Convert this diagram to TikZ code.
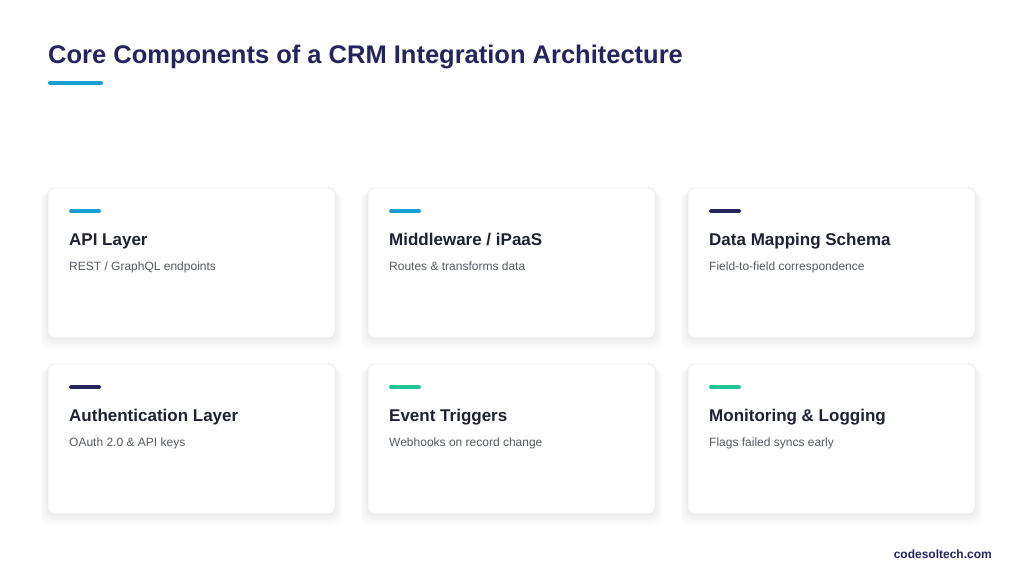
\documentclass[tikz,border=0pt]{standalone}
\usepackage{fontspec}
\setmainfont{Liberation Sans}
\usetikzlibrary{calc}
\definecolor{navy}{HTML}{25255E}
\definecolor{cyanacc}{HTML}{1A9FD4}
\definecolor{greenacc}{HTML}{1FC497}
\definecolor{cardborder}{HTML}{E6E8EC}
\definecolor{headtext}{HTML}{1F2230}
\definecolor{subtext}{HTML}{555A63}
\tikzset{
  card/.style={draw=cardborder, line width=0.8pt, fill=white, rounded corners=6pt},
  cardshadow/.style={fill=black, fill opacity=0.012, rounded corners=10pt},
  accent/.style={line width=4pt, line cap=round},
  cardtitle/.style={anchor=base west, inner sep=0pt, font=\bfseries\fontsize{17}{20}\selectfont, text=headtext},
  cardsub/.style={anchor=base west, inner sep=0pt, font=\fontsize{12}{14}\selectfont, text=subtext},
}
\begin{document}
\begin{tikzpicture}[x=1pt,y=-1pt]
\useasboundingbox (0,0) rectangle (1024,584);
\fill[white] (0,0) rectangle (1024,584);
\node[anchor=base west, inner sep=0pt, font=\bfseries\fontsize{25.5}{30}\selectfont, text=navy] (title) at (48,63) {Core Components of a CRM Integration Architecture};
\draw[accent, cyanacc] (50,83) -- (101,83);
\newcommand{\mycard}[6]{%
  \foreach \s in {1,...,6} {\fill[cardshadow] ($(#2,#3)+(-\s*1.2,\s*0.5)$) rectangle ($(#2+287,#3+150)+(\s*1.2,\s*2)$);}
  \draw[card] (#2,#3) rectangle (#2+287,#3+150);
  \coordinate (#1) at (#2,#3);
  \draw[accent, #4] (#2+23,#3+23) -- (#2+51,#3+23);
  \node[cardtitle] (#1t) at (#2+21,#3+57) {#5};
  \node[cardsub] (#1s) at (#2+21,#3+82) {#6};
}
\mycard{c1}{48}{188}{cyanacc}{API Layer}{REST / GraphQL endpoints}
\mycard{c2}{368}{188}{cyanacc}{Middleware / iPaaS}{Routes \& transforms data}
\mycard{c3}{688}{188}{navy}{Data Mapping Schema}{Field-to-field correspondence}
\mycard{c4}{48}{364}{navy}{Authentication Layer}{OAuth 2.0 \& API keys}
\mycard{c5}{368}{364}{greenacc}{Event Triggers}{Webhooks on record change}
\mycard{c6}{688}{364}{greenacc}{Monitoring \& Logging}{Flags failed syncs early}
\node[anchor=base east, inner sep=0pt, font=\bfseries\fontsize{12}{14}\selectfont, text=navy] (foot) at (992,558) {codesoltech.com};
\end{tikzpicture}
\end{document}
